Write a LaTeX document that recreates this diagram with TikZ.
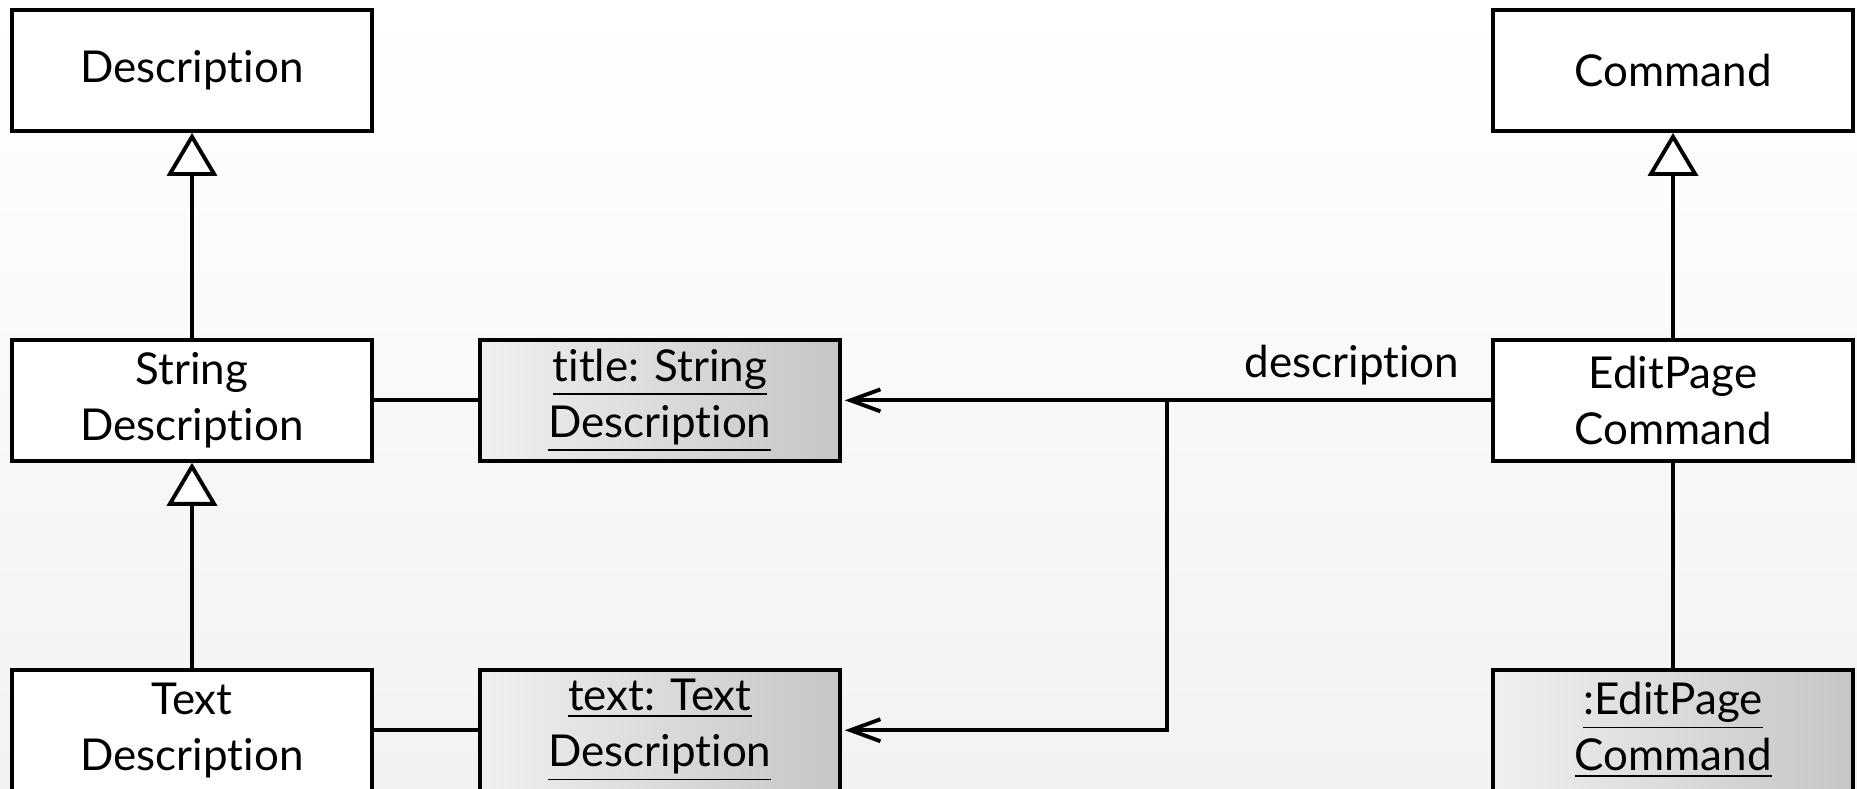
\documentclass[tikz,border=0pt]{standalone}
\usepackage{fontspec}
\setmainfont{Lato}[Ligatures=NoCommon]
\usetikzlibrary{positioning, arrows.meta}
\tikzset{
every picture/.style={line width=1.1pt}, % all lines and box borders
node distance=2.05cm and 1.04cm, % vertical and horizontal gap between boxes
class/.style={draw, fill=white, minimum width=3.6cm, minimum height=1.21cm, inner sep=0pt, align=center, font=\fontsize{12.5}{16}\selectfont}, % a class box
object/.style={class, left color=gray!12, right color=gray!45}, % an object box
inherit/.style={-{Triangle[open, fill=white, length=0.43cm, width=0.5cm]}}, % generalization
assoc/.style={-{Straight Barb[length=0.3cm, width=0.22cm]}, shorten >=0.03cm}, % navigable link
}
\begin{document}
\begin{tikzpicture}
\shade[top color=white, bottom color=blue!3!gray!10] (0,0) rectangle (18.57,7.89);
\useasboundingbox (0,0) rectangle (18.57,7.89);

\node[class] (descr) at (1.92,7.185) {Description};
\node[class, below=of descr] (strdescr) {String\\Description};
\node[class, below=of strdescr] (textdescr) {Text\\Description};
\node[object, right=of strdescr] (title) {\underline{title: String}\\\underline{Description}};
\node[object, right=of textdescr] (text) {\underline{text: Text}\\\underline{Description}};

\node[class] (cmd) at (16.73,7.185) {Command};
\node[class, below=of cmd] (editcmd) {EditPage\\Command};
\node[object, below=of editcmd] (editobj) {\underline{:EditPage}\\\underline{Command}};

\coordinate (split) at (11.67,0 |- editcmd);

\draw[inherit] (strdescr) -- (descr);
\draw[inherit] (textdescr) -- (strdescr);
\draw[inherit] (editcmd) -- (cmd);
\draw (strdescr) -- (title);
\draw (textdescr) -- (text);
\draw (editcmd) -- (editobj);
\draw[assoc] (editcmd.west) node[anchor=base east, inner sep=0pt, xshift=-0.3cm, yshift=0.23cm, font=\fontsize{12.5}{16}\selectfont] {description} -- (title);
\draw[assoc] (split) |- (text);
\end{tikzpicture}
\end{document}
